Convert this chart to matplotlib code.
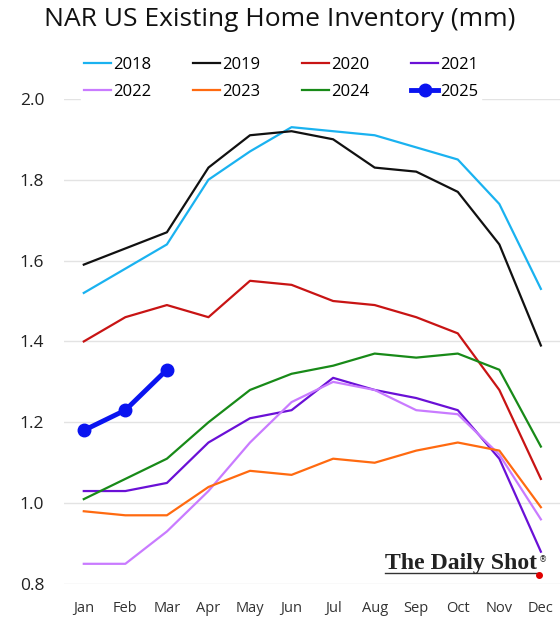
import matplotlib
matplotlib.use('Agg')
import matplotlib.pyplot as plt
from matplotlib.lines import Line2D

months = ['Jan', 'Feb', 'Mar', 'Apr', 'May', 'Jun', 'Jul', 'Aug', 'Sep', 'Oct', 'Nov', 'Dec']

y2018 = [1.52, 1.58, 1.64, 1.80, 1.87, 1.93, 1.92, 1.91, 1.88, 1.85, 1.74, 1.53]
y2019 = [1.59, 1.63, 1.67, 1.83, 1.91, 1.92, 1.90, 1.83, 1.82, 1.77, 1.64, 1.39]
y2020 = [1.40, 1.46, 1.49, 1.46, 1.55, 1.54, 1.50, 1.49, 1.46, 1.42, 1.28, 1.06]
y2021 = [1.03, 1.03, 1.05, 1.15, 1.21, 1.23, 1.31, 1.28, 1.26, 1.23, 1.11, 0.88]
y2022 = [0.85, 0.85, 0.93, 1.03, 1.15, 1.25, 1.30, 1.28, 1.23, 1.22, 1.12, 0.96]
y2023 = [0.98, 0.97, 0.97, 1.04, 1.08, 1.07, 1.11, 1.10, 1.13, 1.15, 1.13, 0.99]
y2024 = [1.01, 1.06, 1.11, 1.20, 1.28, 1.32, 1.34, 1.37, 1.36, 1.37, 1.33, 1.14]
y2025 = [1.18, 1.23, 1.33]

series = [
    ('2018', y2018, '#1ab2f0'),
    ('2019', y2019, '#111111'),
    ('2020', y2020, '#c81414'),
    ('2021', y2021, '#6a10d6'),
    ('2022', y2022, '#c97bff'),
    ('2023', y2023, '#ff6a10'),
    ('2024', y2024, '#188a18'),
]

plt.rcParams['font.family'] = ['Open Sans', 'DejaVu Sans']

fig = plt.figure(figsize=(5.6, 6.42), dpi=100)
ax = fig.add_axes([0.114, 0.0903, 0.886, 0.7557])

x = list(range(12))
lines = {}
for name, vals, color in series:
    lines[name], = ax.plot(x[:len(vals)], vals, color=color, linewidth=1.6, label=name)
lines['2025'], = ax.plot(x[:len(y2025)], y2025, color='#0a14f0', linewidth=3.5, marker='o',
                         markersize=9, label='2025')

ax.set_xlim(-0.48, 11.46)
ax.set_ylim(0.8, 2.0)
ax.set_yticks([0.8, 1.0, 1.2, 1.4, 1.6, 1.8, 2.0])
ax.set_yticklabels(['0.8', '1.0', '1.2', '1.4', '1.6', '1.8', '2.0'], fontsize=12.5, color='#222222')
ax.set_xticks(x)
ax.set_xticklabels(months, fontsize=10.5, color='#333333')
ax.tick_params(length=0, pad=12)
ax.tick_params(axis='y', pad=14)
ax.grid(axis='y', color='#e3e3e3', linewidth=1)
ax.set_axisbelow(True)
for s in ax.spines.values():
    s.set_visible(False)

# legend fills column by column, so interleave the two rows
order = ['2018', '2022', '2019', '2023', '2020', '2024', '2021', '2025']
leg = fig.legend([lines[k] for k in order], order, loc='upper left',
                 bbox_to_anchor=(0.13, 0.93), ncol=4, frameon=True,
                 fontsize=12, handlelength=1.6, handletextpad=0.1, columnspacing=2.55,
                 labelspacing=0.7, borderpad=0.2)
leg.get_frame().set_edgecolor('white')
leg.get_frame().set_facecolor('white')
leg.get_frame().set_alpha(1)

fig.text(0.5, 0.97, 'NAR US Existing Home Inventory (mm)', ha='center', va='center',
         fontsize=19, color='#111111')

# watermark, sized to span roughly x=385..537 px
wm = fig.text(0.688, 0.1135, 'The Daily Shot', fontsize=15, family='Liberation Serif', weight='bold',
              color='#222222', ha='left', va='baseline')
fig.canvas.draw()
w = wm.get_window_extent().width
wm.set_fontsize(15 * 152 / w)
fig.text(0.962, 0.124, '®', fontsize=6, family='DejaVu Sans', color='#222222')
fig.add_artist(Line2D([0.688, 0.962], [0.107, 0.107], color='#333333', linewidth=1.0))
fig.add_artist(Line2D([0.963], [0.105], marker='o', color='#e00000', markersize=4))

fig.savefig('out.png', dpi=100)
